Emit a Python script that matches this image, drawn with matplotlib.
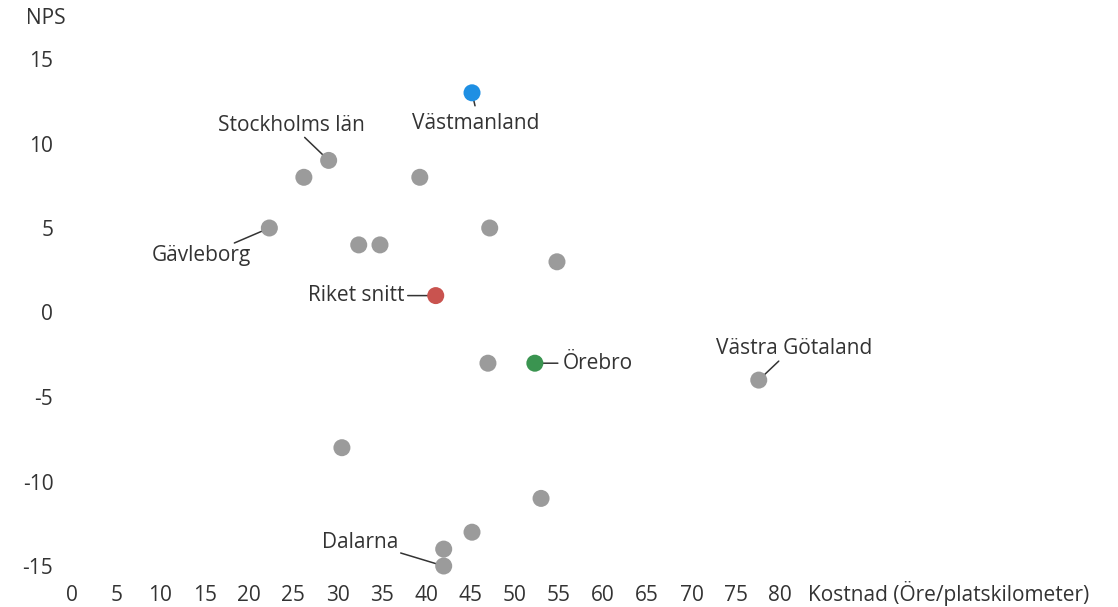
import matplotlib
matplotlib.use("Agg")
import matplotlib.pyplot as plt

plt.rcParams['font.family'] = ['Open Sans', 'DejaVu Sans']

# Data
kostnad = [45.2, 29.0, 26.2, 39.3, 22.3, 32.4, 34.8, 47.2, 54.8, 41.1,
           47.0, 52.3, 77.6, 30.5, 53.0, 45.2, 42.0, 42.0]
nps = [13, 9, 8, 8, 5, 4, 4, 5, 3, 1, -3, -3, -4, -8, -11, -13, -14, -15]
kind = ['blue', 'grey', 'grey', 'grey', 'grey', 'grey', 'grey', 'grey', 'grey',
        'red', 'grey', 'green', 'grey', 'grey', 'grey', 'grey', 'grey', 'grey']
labels = ['Västmanland', 'Stockholms län', '', '', 'Gävleborg', '', '', '', '',
          'Riket snitt', '', 'Örebro', 'Västra Götaland', '', '', '', '', 'Dalarna']
x_ticks = list(range(0, 85, 5))
y_ticks = [-15, -10, -5, 0, 5, 10, 15]

palette = {'grey': '#9b9b9b', 'blue': '#1e8fe3', 'red': '#c9534f', 'green': '#3a9450'}
txt = '#333333'
FS = 15

# label layout (pixels: line start offset, text offset, alignment)
layout = {
    'Västmanland': ((3, -13), (4, -31), 'center'),
    'Stockholms län': ((-24, 23), (-37, 35), 'center'),
    'Gävleborg': ((-35, -15), (-68, -28), 'center'),
    'Riket snitt': ((-28, 0), (-31, 0), 'right'),
    'Örebro': ((23, 0), (28, 0), 'left'),
    'Västra Götaland': ((20, 19), (35, 32), 'center'),
    'Dalarna': ((-43, 13), (-84, 23), 'center'),
}

W, H = 1118, 607
fig = plt.figure(figsize=(W / 100, H / 100), dpi=100)
x0, x1, y_top, y_bot = 72, 780, 59, 566
ax = fig.add_axes([x0 / W, (H - y_bot) / H, (x1 - x0) / W, (y_bot - y_top) / H])
ax.set_xlim(0, 80)
ax.set_ylim(-15, 15)
for s in ax.spines.values():
    s.set_visible(False)

ax.scatter(kostnad, nps, s=150, c=[palette[k] for k in kind], zorder=3,
           clip_on=False, linewidths=0)

px2pt = 0.72
for xv, yv, lab in zip(kostnad, nps, labels):
    if not lab:
        continue
    (lx, ly), (tx, ty), ha = layout[lab]
    ax.annotate('', xy=(xv, yv), xytext=(lx * px2pt, ly * px2pt),
                textcoords='offset points',
                arrowprops=dict(arrowstyle='-', color=txt, lw=1.1,
                                shrinkA=0, shrinkB=0), zorder=2,
                annotation_clip=False)
    ax.annotate(lab, xy=(xv, yv), xytext=(tx * px2pt, ty * px2pt),
                textcoords='offset points', ha=ha, va='center',
                fontsize=FS, color=txt, annotation_clip=False)

ax.set_xticks(x_ticks)
ax.set_yticks(y_ticks)
ax.set_yticklabels([str(v) for v in y_ticks])
ax.tick_params(axis='both', length=0, labelsize=FS, labelcolor=txt)
ax.tick_params(axis='y', pad=13.5)
ax.tick_params(axis='x', pad=14)

fig.text(808 / W, (H - 593) / H, 'Kostnad (Öre/platskilometer)', ha='left',
         va='center', fontsize=FS, color=txt)
fig.text(26 / W, (H - 19) / H, 'NPS', ha='left', va='center', fontsize=FS,
         color=txt)

fig.savefig('out.png', dpi=100)
